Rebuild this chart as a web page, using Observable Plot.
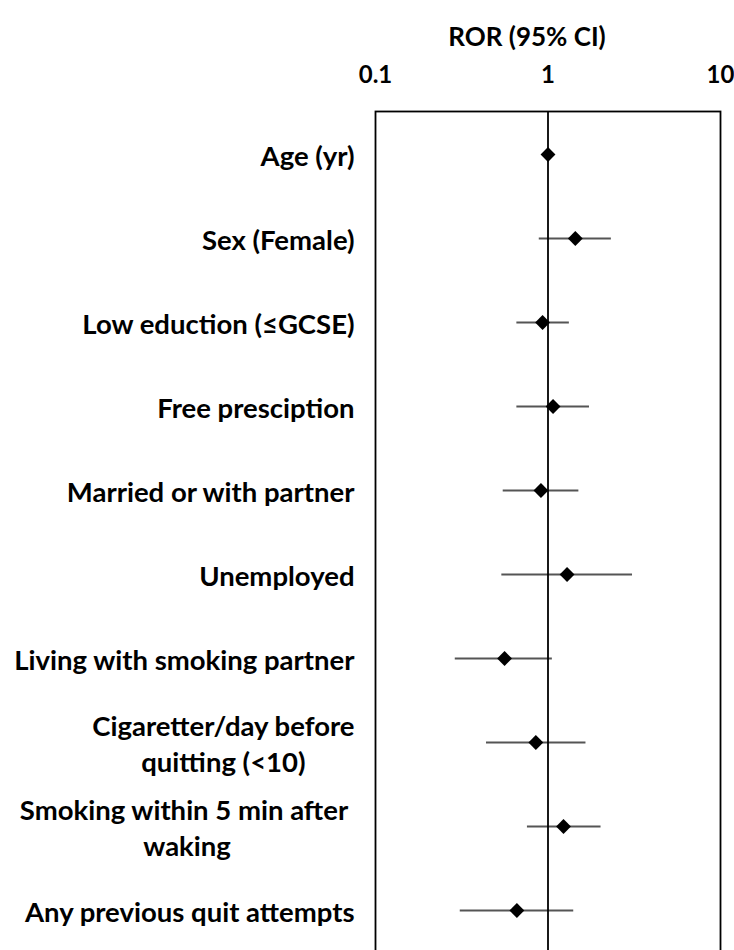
<!DOCTYPE html>
<html>
<head>
<meta charset="utf-8">
<script src="https://cdn.jsdelivr.net/npm/d3@7"></script>
<script src="https://cdn.jsdelivr.net/npm/@observablehq/plot@0.6"></script>
<style>
  html, body { margin: 0; padding: 0; background: #fff; overflow: hidden; }
  #chart svg { display: block; }
</style>
</head>
<body>
<div id="chart"></div>
<script>
const labels = [
  "Age (yr)",
  "Sex (Female)",
  "Low eduction (≤GCSE)",
  "Free presciption",
  "Married or with partner",
  "Unemployed",
  "Living with smoking partner",
  "Cigaretter/day before\nquitting (<10)",
  "Smoking within 5 min after\u00a0\nwaking",
  "Any previous quit attempts"
];
const ror   = [1.00, 1.44, 0.93, 1.07, 0.91, 1.29, 0.56, 0.85, 1.23, 0.66];
const lower = [0.99, 0.89, 0.66, 0.66, 0.55, 0.54, 0.29, 0.44, 0.76, 0.31];
const upper = [1.01, 2.33, 1.33, 1.74, 1.51, 3.09, 1.06, 1.66, 2.03, 1.41];
const xTicks = [0.1, 1, 10];
const xTickLabels = ["0.1", "1", "10"];
const refLine = [1];
const title = "ROR (95% CI)";

const data = labels.map((label, i) => ({label, ror: ror[i], low: lower[i], high: upper[i]}));

const plot = Plot.plot({
  width: 734,
  height: 955,
  marginLeft: 375,
  marginRight: 14,
  marginTop: 111,
  marginBottom: 2,
  style: {fontFamily: "Lato, 'Open Sans', sans-serif", fontWeight: "bold", fontSize: "27px", color: "#000", background: "#fff"},
  x: {type: "log", domain: [0.1, 10]},
  y: {type: "band", domain: labels, padding: 0},
  marks: [
    Plot.ruleY(data, {y: "label", x1: "low", x2: "high", stroke: "#555", strokeWidth: 2}),
    Plot.ruleX(refLine, {stroke: "#000", strokeWidth: 1.8}),
    Plot.frame({stroke: "#000", strokeWidth: 1.8}),
    Plot.axisX({anchor: "top", ticks: xTicks, tickFormat: d => xTickLabels[xTicks.indexOf(d)], tickSize: 0, tickPadding: 29, label: null, fontSize: 24}),
    Plot.axisY({anchor: "left", tickSize: 0, tickPadding: 21, label: null, fontSize: 27.5, lineHeight: 1.3}),
    Plot.dot(data, {x: "ror", y: "label", symbol: "diamond2", r: 6.7, fill: "#000", stroke: "none"}),
    Plot.text([title], {text: d => d, frameAnchor: "top", dy: -84, dx: -21, fontSize: 26})
  ]
});

document.getElementById("chart").appendChild(plot);

// center the lines of multi-line category labels within their block (as in the reference)
plot.querySelectorAll('g[aria-label="y-axis tick label"] text').forEach(t => {
  const spans = t.querySelectorAll("tspan");
  if (spans.length > 1) {
    const w = t.getBBox().width;
    t.setAttribute("text-anchor", "middle");
    const tr = t.getAttribute("transform") || "";
    t.setAttribute("transform", tr + ` translate(${-w / 2},0)`);
  }
});
</script>
</body>
</html>
